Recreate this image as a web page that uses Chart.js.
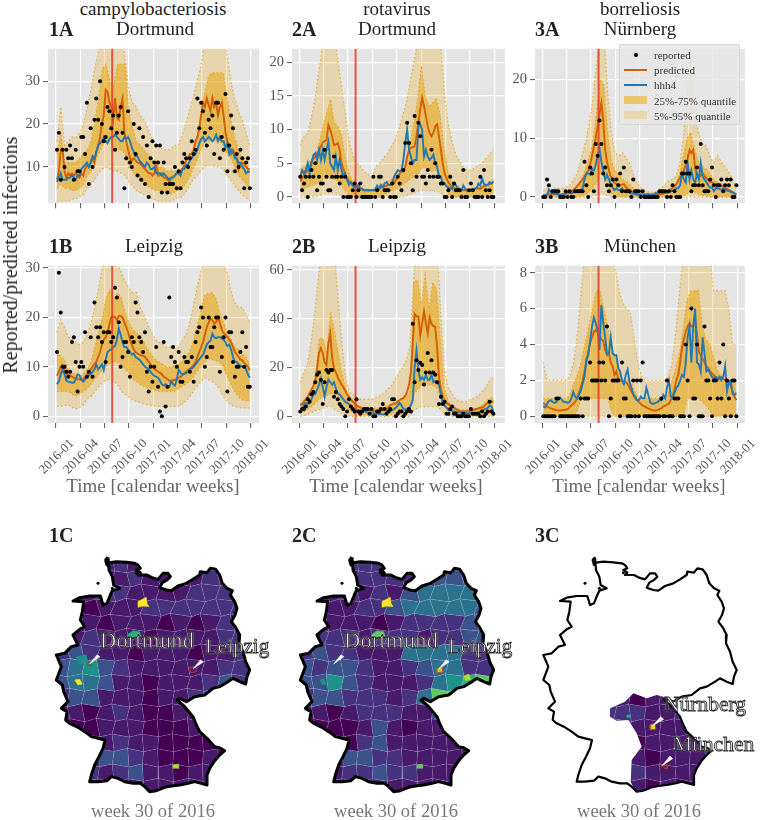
<!DOCTYPE html>
<html>
<head>
<meta charset="utf-8">
<script src="https://cdn.jsdelivr.net/npm/chart.js@4"></script>
<style>
body { margin:0; background:#fff; }
#page { position:relative; width:760px; height:820px; overflow:hidden; font-family:"Liberation Serif",serif; }
canvas { position:absolute; }
.txt { position:absolute; white-space:nowrap; line-height:1; }
.halo { color:#fff; -webkit-text-stroke:0.9px #2a2a2a; text-shadow:0 0 2px #fff; }
#legend { position:absolute; left:619px; top:44px; width:121px; height:81px; background:rgba(229,229,229,.82); border:1px solid #d8d8d8; border-radius:2px; box-sizing:border-box; font-size:11px; color:#333; }
#legend div { position:absolute; }
</style>
</head>
<body>
<div id="page"></div>
<script>
const tickWeeks = [0,13,26,39,52,65,78,91,104];
const tickLabels = ['2016-01','2016-04','2016-07','2016-10','2017-01','2017-04','2017-07','2017-10','2018-01'];
const markerWeek = 30;

// panel 1A
const a1Reported = [14,18,7,14,10,14,12,15,12,7,14,9,9,17,17,13,25,6,19,10,21,26,21,30,20,16,17,24,23,19,22,14,18,22,24,18,5,12,23,11,10,20,13,8,19,7,17,6,15,3,12,16,11,15,11,15,4,11,6,4,6,6,6,10,5,9,5,11,13,12,10,12,16,13,14,26,19,25,23,18,15,21,19,22,13,25,25,12,17,14,27,9,15,22,19,9,13,10,14,12,5,11,12,5];
const a1Predicted = [7,9,14,14,9,7.5,8.5,8,8.5,8,8.5,8,7.5,8.5,8,9.5,10.5,10,11,12,11,13.5,15,17,20,22,28,27.5,25,24,21,26,21.5,21,24,26,18,16,14,12,11.5,12,11.5,11,11,10.5,10,9.5,9,8.5,8.5,8,8.5,10.5,8,8,8.5,7.5,7.5,7,6.5,7.5,7.5,8,8.5,8.5,9,9.5,10.5,11.5,12,13,13,14,16,17,19,22,25,24,26,24.5,23,26,24,25,22,24,25,22,18,16,14.5,13,14,13,12,9.5,11,11,10.5,10,9.5,9.5];
const a1Hhh4 = [6.5,7.5,8.5,7,7,7,7.5,7.5,8,7.5,7,8,8,9.5,10,10.5,11,10,11,12.5,12,13.5,15,15.5,16,17,16,15.5,16.5,17,17,17.5,17,16.5,16,16,17,16.5,17,16,14.5,13.5,12.5,12.5,11.5,11,10.5,10,11,10.5,9.5,9.5,10,8.5,8.5,8.5,8,8.5,8,7.5,7,7.5,7.5,8,8.5,8.5,8,9.5,9.5,10.5,10.5,11.5,12,13,13,14,15.5,16.5,17,16,16.5,17,16.5,16,16.5,17.5,16,17,16,16,14.5,15.5,13,14,13.5,12,12,11,11,10,9.5,8.5,9,8.7];
const a1Q95 = [16,24,15,16,17,17,18,20,24,28,33,37,42,44,44,44,44,43,35,28,25,24,22,21,19,17,15,15,14,14,14,15,15,17,20,23,26,30,33,40,44,44,44,44,44,36,30,26,23,21,18,15];
const a1Q75 = [13,18,11,11,11,11,12,13,14,16,21,26,33,34,30,29,34,34,34,23,19,16,15,14,13,12,11,10,10,9,9,9,9,9,10,12,14,17,22,27,31,32,32,32,32,26,21,17,14,12,11,9];
const a1Q25 = [5,6,5,5,4.5,4.5,5,6,8,9,11,13,15,16,16,14.5,14,14,13,10,9,8,7,6.5,5.5,5,4.5,4.5,4,4,3.7,4,4.5,5,6,7.5,9.5,11.5,14,15.5,16,16,16,16,15,13,12,10,8,7,6,4.5];
const a1Q05 = [2,2,2,2,2.5,2.5,3,3.5,5,6,7,8.5,9.5,10,9.5,9,9,8.5,8,6.5,5.5,4.5,4,3.5,3,2.5,2.3,2,2,2,2,2.3,2.8,3,4,5.5,7,8,9,10,10.3,10.3,10,10,9.5,8,7,5.5,4.5,3.5,2.8,2.2];

// panel 2A
const a2Reported = [3,1,2,3,0,3,4,3,5,1,3,2,2,7,3,1,1,3,6,3,3,2,3,0,3,0,0,0,1,2,0,1,2,0,0,0,0,0,0,3,0,1,3,3,0,1,1,1,0,2,0,0,3,2,1,4,8,11,8,5,1,12,3,11,9,3,3,2,4,3,7,3,5,3,3,2,2,0,0,1,3,0,2,1,1,1,0,4,0,0,1,2,1,0,0,0,3,0,4,1,0,1,0,0];
const a2Predicted = [2.3,2.8,3.2,3.6,4,4.5,5.3,5.7,6,6.5,6.8,7.5,8.1,8.3,8.4,10.7,10,9,7.7,7.8,8,7,5,4.2,3.2,2.8,2.4,2.1,1.9,1.7,1.5,1.4,1.3,1.1,1,1,1,1,1,1,1,1.1,1.2,1.4,1.5,1.6,1.7,1.8,1.8,1.9,2,2.5,3,3.5,3.7,3.8,4.5,6,7,7.3,7.4,7.5,9,11,13,14.7,13.5,12,10.5,9.5,9,9.5,10.5,10.8,9,7,5,3.5,2.8,2.2,1.8,1.5,1.3,1.2,1.1,1.1,1,1,1,1,1,1.1,1.2,1.2,1.3,1.3,1.2,1.4,1.6,1.7,1.8,1.9,2,2.3];
const a2Hhh4 = [3,4,3.5,4,5,3.5,5,6.2,6.5,5.5,7,5.5,7,5.5,7,8.2,5,4.5,4,6,4,5.5,4,3,3.5,2.5,1.8,2.2,1.7,1.4,1.6,1.8,1.3,1.2,1,1,1,1,1,1,1.1,1.7,1.2,1.8,1.4,2,2.2,1.8,1.8,2,3,3.5,4,3.8,4,5.5,8,10,7,6,5,5.5,5.5,10.5,10.8,10,6,7,6,5.5,5.8,6.3,5,4.5,3,3,2,2,1.6,1.4,1.3,1.2,2,1.8,1.3,1,1,1.7,1.2,1,1,1.1,1.1,1.2,1.3,2,1.7,2.8,1.9,1.8,1.8,2.2,2,2.3];
const a2Q95 = [7.7,9,9.5,12,15,19,23,26,26,24,20,16,12,8,6,5,4.5,3.7,3.3,3,4.5,5,5.8,6.5,7.5,8.5,10,12,14,17,20,23,28,28,26,25,26,23,16,11,8.5,6.5,5.3,4.5,4,4,4.3,4.7,5,5.8,6.3,7];
const a2Q75 = [4,4.5,5,5.5,6.5,8,10.5,12.5,14.5,11,10.5,9,5.5,3.3,2.2,1.8,1.5,1.2,1.1,1.1,1.5,1.8,2,2.3,2.6,3,3.3,4,5,8,11,14.5,19.5,15,13.5,14,14.7,12,7,3.8,2.4,1.9,1.5,1.3,1.2,1.2,1.4,1.5,1.6,1.9,2.2,2.6];
const a2Q25 = [1.2,1.3,1.5,1.7,1.9,2.2,2.6,2.8,2.8,2.6,2.3,1.7,.8,.2,0,0,0,0,0,0,0,0,.3,.6,.9,1.1,1.3,1.7,2.2,2.6,3,3.3,4.2,4.4,4,3.8,4,3,2,.6,0,0,0,0,0,0,0,0,0,.2,.4,.6];
const a2Q05 = [0,0,0,0,0,.2,.4,.6,.6,.5,.4,.2,0,0,0,0,0,0,0,0,0,0,0,0,0,0,0,0,.2,.4,.6,.8,1,1,1,.9,.9,.6,.2,0,0,0,0,0,0,0,0,0,0,0,0,0];

// panel 3A
const a3Reported = [0,0,3,2,0,1,1,1,1,0,0,0,1,0,1,0,0,1,1,1,1,1,6,2,0,5,4,1,9,7,13,9,4,5,2,1,2,3,0,3,2,4,1,5,1,1,1,0,3,1,1,1,0,1,0,0,0,0,0,0,0,0,1,1,1,1,0,1,0,2,1,0,0,0,4,4,6,4,4,1,2,2,5,2,9,2,1,1,1,3,5,2,0,2,2,3,1,2,3,2,3,0,0,2];
const a3Predicted = [.3,.3,.4,.5,.5,.5,.5,.5,.4,.4,.4,.5,.6,.7,.8,1,1.2,1.5,1.8,2.2,2.6,3,3.5,4,4.5,5.5,7,8.5,10,12,14,16,13,8,6,4.5,3.5,3,2.4,2.2,2.1,2,2.1,2.2,1.7,1.4,1.1,1,.8,.7,.6,.5,.5,.4,.4,.4,.4,.4,.4,.4,.4,.5,.5,.5,.6,.7,.8,1,1.2,1.6,1.9,2.2,2.8,3.3,3.8,4.5,5.5,6.5,8,7.5,8,5,3.5,3.3,3.8,4,3.6,3.2,2.8,2.6,2.5,2.3,2.2,2.1,2,1.9,1.7,1.5,1.4,1.2,1,.8,.6,.5];
const a3Hhh4 = [.2,.3,.3,1.3,.8,.6,.5,.6,.5,.4,.4,.5,.6,.7,.8,.6,.8,1,1,1.2,1.2,1.5,3,4,4,3.8,4.8,4.5,5.5,7,8.3,6,4.5,3,3.8,3,2.2,1.6,1.2,1.5,1.2,1.2,1.5,1,1,.9,.8,.6,.6,.5,.4,.4,.3,.3,.5,.5,.5,.4,.4,.5,.7,.6,.9,.8,.7,1,.7,.9,1,1,1.2,1.5,1.5,2,4,3,2.5,5.8,3,4.5,3,2.5,4,3,5.8,3.5,3,2.5,2,1.6,1.6,1,1.5,1.5,1.4,1.2,1.4,1.2,1.1,1,.9,.8,.6,.4];
const a3Q95 = [1,1.5,1.3,1.5,1.5,1.5,1.7,2,3,4,6.5,9,12,16,22,28,28,18,11,7.5,7,7.5,6.5,5.5,3.5,2.2,1.4,1.1,.8,.8,1,1.5,2,2.7,3,3.5,5.5,10,17,25,14,11,9,8.8,7,5.8,7,6,5,4.3,3,1.8];
const a3Q75 = [.5,.5,.5,.6,.6,.6,.7,.8,1.5,2,3,4.5,6.5,9,14,20,19,11,6,4.5,3.8,3,2.7,2,1.4,1,.6,.5,.5,.5,.6,.8,1,1.3,1.6,2,4,7,10,11,8,6,5.2,4.8,4,3,2.6,2.2,1.8,1.5,1,.6];
const a3Q25 = [0,0,0,0,0,0,0,0,0,0,.1,.3,.8,1.5,2.4,4,4.5,2,.5,.2,0,0,0,0,0,0,0,0,0,0,0,0,0,0,0,0,0,.2,.5,1,.8,.5,.3,.2,0,0,0,0,0,0,0,0];
const a3Q05 = [0,0,0,0,0,0,0,0,0,0,0,0,0,.1,.3,.6,.6,.2,0,0,0,0,0,0,0,0,0,0,0,0,0,0,0,0,0,0,0,0,0,.1,0,0,0,0,0,0,0,0,0,0,0,0];

// panel 1B
const b1Reported = [13,29,21,10,10,9,8,9,15,16,11,5,10,11,10,17,8,9,16,8,23,18,16,18,15,17,11,17,17,15,16,26,24,19,10,12,15,15,13,8,16,15,23,21,16,15,13,17,9,5,10,7,10,14,6,1,0,15,2,6,24,12,14,11,10,13,7,7,12,11,11,9,12,7,15,17,18,22,20,10,12,20,14,14,18,20,20,9,12,16,20,5,17,17,11,8,10,10,13,17,10,14,6,6];
const b1Predicted = [8.2,9,10,10.4,9.5,8.6,8.4,8.3,8,7.8,7.8,7.5,7.5,7.3,7.5,8,8.5,9,9.5,10,10.5,11,12,13,14.5,15.5,16,17,18.5,20,20.2,20,19.5,20.3,20.3,20,19,18,17,15.5,14.5,13.5,13,12.7,12.5,12.3,12.3,12,11.5,11,10.5,10,9.5,9.3,9,8.8,8.5,8,7.8,7.5,7.2,7.2,7.3,7.4,7.5,7.7,8,8.3,8.6,9,9.3,9.6,10,10.4,11,12,13,14,15,16.5,18,19,19.7,19.4,18.7,19,20,19,17.5,16.8,16.5,16,15.5,15,14,13,12.5,12,11.5,11.3,10.8,10.4,10,9.3];
const b1Hhh4 = [6.5,7,8.5,9.5,8.5,7.2,7,6.9,6.8,6.8,7.5,8.5,8.3,7.5,7,7.5,8,8.3,8.5,9,9.5,10.5,9.5,10,10.5,9.3,11.5,13,13.3,13.5,14,14.2,15.5,17.8,16.5,15,14,14,13.5,13,12.5,12.7,12,11.7,11.5,11,10.5,10,9.8,9.5,9,8.5,8.2,8,7.8,7.2,6.5,6.2,6.5,6.2,6,7,6.5,6.2,7.5,9.4,8.8,8.5,8.6,8.8,9,9.5,9.7,10,10.5,11,11.5,12,12.5,13.5,14.5,15,15.3,16.7,16,15.8,16,16,15.8,15.5,15,14.2,14.5,13.5,12,11,11,10.5,10.2,10,10,9.5,8.5,7.8];
const b1Q95 = [17,19.5,18,16,15.5,15,14.5,15,16.5,19,22,26,30,33,34,34,31,29,27.5,26,25,25,22,20.5,18.5,17,15.5,15,14.5,14,14,13.7,14,15,16.5,18.5,22,26,29,32,34,35,34,33,31,29,25.5,23,22,22,20.5,19];
const b1Q75 = [13,12,11.5,9.5,9,8.5,8,8.5,9.5,11,14,17,20,24,25.8,23.5,25,24,21,19,17.5,17,16,15,13.5,12.5,11.5,11,10.5,10,10,10.2,10.5,11,12,13,15,18,21,24.5,24.8,25,24,21,19,17,15.5,14,13.5,12.5,12,10.5];
const b1Q25 = [5,5,5,5,4.5,4,4.5,5,5.5,6.5,7.5,8.5,9.5,10.2,10.7,11,11,10.5,9.5,8.7,7.5,7,6.5,6,5.8,5.5,5.2,5,5,5,5,5,5.5,6,6.5,7,8,9,10,11,11.6,11.5,11.2,11,10,8,6.5,5,4,3.3,3.2,3];
const b1Q05 = [2,2,2.2,2.3,1.8,1.5,1.8,2.3,3.5,4,5,6,6.8,7.3,7.4,7,6.5,5,4.5,3.8,3.3,3,2.8,2.5,2.3,2.2,2,2,2,2,2,2,2,2.3,3,3.8,5,6,7,7.8,7.5,7,6.5,5.5,4,3,2.3,2,1.8,1.7,1.7,1.7];

// panel 2B
const b2Reported = [2,3,3,4,7,6,9,10,14,17,18,15,5,14,19,18,19,19,8,10,7,5,4,3,0,2,7,4,3,2,7,2,1,2,3,3,3,1,3,0,0,2,2,3,5,3,1,2,3,7,7,0,1,2,2,0,1,2,3,2,38,14,23,19,22,21,13,18,26,18,23,18,17,14,5,8,5,6,1,1,3,4,1,1,0,0,0,1,0,0,0,3,1,1,1,1,0,2,0,1,2,6,2,1];
const b2Predicted = [4.5,5.2,6,7,8,9.5,11,12.5,14.5,20,26,28,26,22,21,30,34,24,19.7,18,16,14.5,13,12,10.5,9,8,7,6,5.5,4.5,4,3.7,3.2,2.8,2.7,2.6,2.5,2.4,2.3,2.2,2.1,2.1,2.2,2.4,2.7,3,3.5,4.7,4.9,5.1,5.3,6,6.7,7,7.5,8.5,10,13,18,30,42,41,41,33,38,43,38,34,40.6,38,37,36.7,28,15.8,11,8,6.7,5.5,5,4.5,4,3.5,3,2.5,2.2,2,2,2,2,2,2.2,2.5,2.8,3,3.2,3.4,3.6,4,5,5.5,6,6,6];
const b2Hhh4 = [2,2.5,5,5.5,5,6,7,9,9,11,13,15.5,12,8,12,15,14,13,14,11.5,9.5,9,8,7,6,5.5,5,4,3.5,3,2.7,2.3,2.5,2,2.5,1.8,1.4,1.5,1.6,1.3,1.2,1,1,.9,.8,.9,1.2,1.5,2,2.5,3,3.5,4.5,5.5,4.5,3,2.7,3,3.5,4.5,6.5,20,27,19,15,16,15,17,15,15,17,14,14.5,14,13,9,5.4,4.5,3.5,2.7,2.5,2.2,2,1.8,1.6,1.5,1.4,1.4,1.4,1.3,1.3,1.4,1.4,1.5,1.5,1.6,2,2.3,2.7,3,3.5,4.5,4,2];
const b2Q95 = [14,18,22,32,45,60,72,75,75,68,48,30,16,10,9,7.5,7,7,7,7,7.5,8.5,9.5,11,12.5,15,17.8,20,23,29,58,72,75,75,75,75,75,45,20,12,9.5,7,6.5,6,6,7,7.5,8.5,10,12,14.5,16.5];
const b2Q75 = [5,6.5,8,10,16,32,32,26,43,35,26,18,11,8,6,4.5,3.8,3.4,3.2,3.2,3.2,3.4,3.8,4.2,5,6,6.7,7.5,8.5,10,55,56,46,58,44,55,52,32,12,6.5,4.5,3.5,3,2.7,2.7,3,3.2,3.5,4.5,6,7.5,8];
const b2Q25 = [1.4,2,3,4,5.5,7,8,8.5,9.3,9,8,6,4,2.5,1.5,1,.7,.5,.5,.5,.5,.5,.5,.7,1,1.2,1.4,1.6,2,2.5,9,11,12.5,13,13,12.5,12,8,4,1.8,1,.7,.5,.5,.5,.5,.5,.7,.8,1,1.2,1.4];
const b2Q05 = [0,.3,.8,1.5,2.3,2.7,3.3,4,4,3,2,1.2,.5,0,0,0,0,0,0,0,0,0,0,0,0,0,0,0,0,0,2.5,3.4,4,4,4,4,4,3,1,.4,0,0,0,0,0,0,0,0,0,0,0,0];

// panel 3B
const b3Reported = [0,0,0,0,0,0,0,1,1,0,0,0,0,0,0,0,0,0,0,0,1,0,1,1,1,3,2,2,2,2,3,2,3,2,5,0,1,2,2,2,2,0,3,1,1,0,0,0,2,0,2,0,2,3,0,0,0,0,0,0,0,0,0,1,0,0,2,0,0,0,1,1,1,0,0,0,4,2,0,6,1,1,4,0,0,0,5,2,2,1,0,2,2,1,3,1,4,0,2,1,0,2,2,0];
const b3Predicted = [.75,.65,.55,.5,.45,.42,.38,.35,.33,.33,.34,.35,.37,.4,.5,.6,.7,.8,1,1.3,1.6,2,2.5,3,3.6,4.1,4.4,4.7,4.8,4.7,4.5,4.3,4.2,3.7,3.4,3.5,3,2.8,2.3,2.5,2.1,2,2,1.9,1.9,1.8,1.6,1.4,1.2,1,.9,.8,.7,.6,.55,.5,.45,.4,.35,.33,.33,.35,.4,.45,.55,.6,.65,.7,.9,1.1,1.5,2,2.3,3,3.8,4.3,4.7,5,5.2,5,5,5.5,4.6,3.6,3.4,3.2,3,2.8,2.7,2.5,2.4,2.3,2.1,2,2.1,2.2,2.1,2,2,1.9,1.7,1.4,1.1,.9];
const b3Hhh4 = [.55,.5,.7,.85,.9,.8,.75,.8,1,1.05,.9,.8,.8,.75,.8,1,1.35,1.1,1,1.2,1.4,1.8,2.2,3.2,3.4,4.2,5,5.5,5.2,4.8,3.7,6.2,5.2,4.4,3.5,3.5,4.4,3.5,3.4,3.4,2.7,2.5,2,1.8,2.3,2.6,1.9,1.6,1.25,1.1,.9,.9,1.1,1,1,1.6,1.2,.8,.7,.7,.75,.8,.9,.9,1.2,1,1.6,2,1.1,1.1,1.3,1.6,1.7,2,2.3,2.2,3,4.4,5,3,5,6,3,2.9,2.5,4.4,3.5,2.5,2.6,2.4,2.2,2.1,2.2,2.1,2.2,2,2.2,2.8,1.4,1.9,2,1.25,1.2,1.3];
const b3Q95 = [3,2,2,2,2,2,2,2.2,3,4.5,7,9,10,10,10,10,10,10,9.5,8.4,7,6.3,6,5.8,4.3,3,2.2,2,2,2,2,2,2,2.2,3,4.7,7,9,10,10,10,10,10,10,9,7,7,7,7,6,4,4];
const b3Q75 = [1,1,1,1,1,1,1,1.2,1.8,2.3,3,4,5,6,7,7,6,5,4,3.3,2.5,2,2,2,1.5,1,1,1,1,1,1,1,1,1.3,2,2.7,3.6,5,6.5,7,7,7,5,4.3,4,3.3,2.6,2.2,2,2,2,2];
const b3Q25 = [0,0,0,0,0,0,0,0,0,.3,1,1,1,1,1,1,1,1,.3,0,0,0,0,0,0,0,0,0,0,0,0,0,0,0,0,0,0,0,1,1,1,1,.8,.6,.3,0,0,0,0,0,0,0];
const b3Q05 = [0,0,0,0,0,0,0,0,0,0,0,0,0,0,0,0,0,0,0,0,0,0,0,0,0,0,0,0,0,0,0,0,0,0,0,0,0,0,0,0,0,0,0,0,0,0,0,0,0,0,0,0];

// map geometry, in map units (3 units = 1 px)
const germanyOutline = [[255,112],[248,120],[252,135],[258,128],[280,125],[310,127],[335,130],[345,135],[352,145],[340,150],[352,158],[345,165],[372,165],[385,172],[405,178],[412,170],[420,160],[435,160],[442,170],[432,180],[418,188],[410,203],[430,210],[445,212],[465,198],[490,190],[510,178],[530,165],[532,155],[552,158],[562,145],[578,148],[590,165],[598,190],[612,205],[628,212],[622,225],[635,245],[642,265],[636,285],[625,305],[638,322],[650,345],[648,370],[660,395],[668,425],[680,450],[672,470],[668,492],[650,485],[630,475],[615,485],[590,500],[570,505],[545,525],[515,530],[490,545],[470,535],[462,540],[485,560],[510,590],[518,610],[530,635],[552,655],[575,680],[590,683],[605,692],[590,705],[575,722],[560,745],[552,765],[552,795],[535,790],[515,785],[495,790],[470,795],[445,798],[425,802],[400,812],[380,815],[365,800],[352,790],[330,790],[305,785],[285,775],[265,770],[252,782],[225,785],[200,785],[205,765],[215,735],[228,710],[240,685],[246,660],[225,655],[205,650],[185,635],[165,622],[140,610],[128,600],[132,575],[115,565],[135,545],[122,515],[118,495],[100,480],[115,440],[100,405],[125,400],[145,380],[165,375],[150,345],[170,328],[185,320],[172,300],[178,275],[182,245],[150,243],[170,233],[200,228],[232,228],[240,255],[252,250],[262,225],[268,212],[290,205],[272,195],[268,170],[258,150],[255,112]];
const bavariaOutline = [[300,565],[345,545],[370,520],[410,535],[440,525],[460,530],[500,570],[515,600],[530,635],[575,680],[605,692],[575,722],[555,760],[552,795],[515,785],[480,795],[430,802],[395,815],[375,812],[362,785],[365,720],[395,680],[380,640],[355,600],[320,602],[300,590],[300,565]];
const islands = [[225,190],[340,158],[268,205]];

// district mesh: 17 rows of 14 corners, [x,y, x,y, ...]
const districtMesh = [
[90,100,138,108,176,103,229,110,266,102,318,107,357,104,409,110,446,101,498,108,537,103,589,109,626,102,678,106],
[86,155,140,147,184,156,221,146,275,153,311,158,364,146,402,155,455,148,491,156,544,147,581,153,634,158,672,148],
[93,194,131,202,178,190,231,199,264,192,322,201,354,192,411,201,444,190,503,199,534,191,592,198,624,190,681,200],
[84,243,143,236,187,246,218,237,278,245,309,235,367,244,399,236,458,246,488,237,547,245,578,236,637,244,669,238],
[95,282,129,291,174,280,234,290,261,283,325,291,351,281,414,289,441,280,506,290,531,281,595,289,621,282,684,290],
[85,333,141,325,186,335,219,326,277,334,310,325,366,334,400,327,457,335,489,326,546,334,579,327,636,333,670,326],
[94,372,130,381,173,371,233,380,263,372,323,380,353,370,412,379,443,371,504,381,533,372,594,379,622,372,682,380],
[87,424,142,415,185,425,220,416,276,423,312,416,365,425,401,417,456,425,490,416,545,424,580,416,635,425,671,415],
[92,462,132,470,177,461,230,471,265,463,321,470,355,461,410,470,445,462,502,471,535,461,591,469,625,462,680,471],
[86,513,140,505,184,514,222,506,274,514,313,505,363,515,403,506,454,514,492,505,543,514,582,505,633,514,672,506],
[94,553,133,561,175,551,232,560,266,552,320,561,356,552,408,560,447,551,500,560,536,552,590,561,627,553,679,560],
[85,604,141,596,186,605,219,595,277,604,311,596,364,605,402,596,453,605,493,596,542,604,583,595,632,605,673,596],
[93,642,134,651,174,641,231,650,267,642,319,651,357,642,407,650,448,641,499,651,537,642,589,650,628,641,678,651],
[86,694,139,685,183,695,223,686,273,694,314,685,362,695,404,686,452,695,494,685,541,694,584,686,631,695,674,685],
[92,733,135,741,176,731,229,740,268,732,318,741,358,731,406,741,449,732,498,740,538,731,588,740,629,732,677,741],
[88,784,138,775,182,785,224,776,272,785,315,776,361,784,405,775,451,785,495,775,540,784,585,776,630,785,675,775],
[90,830,136,822,178,830,228,823,270,830,317,822,359,830,407,823,450,830,497,822,539,830,587,823,628,830,676,822]
];

// colour level of each district cell (0-10 on the colour bar)
const map1Levels = [
[1,1,1,1,2,1,1,1,1,1,2,2,2],
[1,1,1,1,1,2,1,1,1,1,2,2,2],
[1,1,1,2,2,1,1,1,1,2,2,2,2],
[1,1,0,1,1,1,2,2,2,2,2,2,2],
[1,1,1,0,1,1,1,0,1,0,1,2,1],
[1,1,2,1,1,1,0,1,1,1,1,2,2],
[2,3,2,1,1,0,1,1,1,0,1,1,2],
[3,4,5,3,2,1,1,1,1,1,1,2,2],
[3,4,4,3,1,1,0,1,1,1,2,3,2],
[2,3,3,1,1,1,0,1,1,2,3,2,2],
[1,1,0,1,2,1,0,0,1,1,1,1,1],
[0,0,0,1,1,1,0,0,0,1,1,1,1],
[0,0,0,1,2,1,1,0,0,0,0,1,1],
[1,1,1,3,3,2,1,0,0,0,1,0,1],
[1,1,2,1,2,3,1,1,0,1,1,1,1],
[1,1,2,1,1,1,1,1,1,1,1,1,1]];
const map2Levels = [
[1,1,1,2,2,2,1,1,1,1,3,4,4],
[1,1,1,1,2,2,2,2,2,3,3,4,4],
[1,1,1,2,1,2,1,3,4,4,4,4,3],
[2,1,1,1,2,2,3,4,4,4,4,4,3],
[2,2,1,1,1,0,1,2,2,2,2,3,3],
[2,2,2,2,1,2,2,2,1,2,2,3,3],
[2,3,2,2,1,1,1,4,4,4,4,2,2],
[3,2,3,3,2,1,1,2,3,4,4,2,2],
[3,3,5,3,2,1,1,1,2,4,5,6,7],
[2,3,3,2,2,2,1,2,4,7,7,6,4],
[1,1,0,1,2,2,2,1,1,3,1,1,1],
[0,0,0,0,1,3,1,0,1,1,1,1,1],
[0,0,0,0,2,3,1,1,1,1,1,0,1],
[1,1,1,3,3,2,2,1,1,1,1,1,1],
[1,1,1,2,2,3,2,2,1,1,1,1,1],
[1,1,1,1,1,1,1,1,1,1,1,1,1]];
const map3Levels = [
[1,1,1,1,1,1,1,1,1,1,1,1,1],
[1,1,1,1,1,1,1,1,1,1,1,1,1],
[1,1,1,1,1,1,1,1,1,1,1,1,1],
[1,1,1,1,1,1,1,1,1,1,1,1,1],
[1,1,1,1,1,1,1,1,1,1,1,1,1],
[1,1,1,1,1,1,1,1,1,1,1,1,1],
[1,1,1,1,1,1,1,1,1,1,1,1,1],
[1,1,1,1,1,1,1,1,1,1,1,1,1],
[1,1,1,1,1,1,1,1,1,1,1,1,1],
[1,1,1,1,1,1,0,1,1,1,1,1,1],
[1,1,1,1,2,2,2,1,1,2,2,1,1],
[1,1,1,1,2,2,1,1,1,1,2,2,1],
[1,1,1,1,1,1,0,1,1,1,1,2,2],
[1,1,1,1,1,1,1,0,1,1,1,2,3],
[1,1,1,1,1,1,2,1,1,1,1,1,1],
[1,1,1,1,1,0,1,0,1,0,1,1,1]];

// hot districts: colour level, then corners
const map1Hot = [
[10,[[345,245],[358,238],[370,232],[372,250],[378,260],[360,258],[345,262]]],
[6,[[313,345],[330,332],[350,335],[355,352],[335,357],[315,352]]],
[10,[[155,480],[170,478],[178,492],[165,495]]],
[5,[[160,410],[190,405],[195,425],[170,432]]],
[8,[[450,735],[465,732],[467,745],[452,745]]]];
const map2Hot = [
[10,[[345,245],[358,238],[370,232],[372,250],[378,260],[360,258],[345,262]]],
[7,[[313,345],[330,332],[350,335],[355,352],[335,357],[315,352]]],
[5,[[160,478],[172,476],[178,492],[165,495]]],
[7,[[450,735],[465,732],[467,745],[452,745]]],
[8,[[590,468],[605,462],[612,478],[595,482]]],
[8,[[510,445],[525,442],[528,456],[512,458]]]];
const map3Hot = [
[9,[[420,614],[433,612],[436,626],[422,629]]],
[6,[[350,585],[358,584],[359,592],[351,593]]]];
const map1Rings = [[[195,425],[205,425],[205,436],[195,436],[195,425]],[[500,442],[518,440],[520,455],[503,458],[500,442]]];
const map2Rings = [[[510,445],[525,442],[528,456],[512,458],[510,445]]];
const map3Rings = [[[422,612],[436,612],[438,628],[422,630],[422,612]],[[462,735],[472,735],[472,745],[462,745],[462,735]]];
const map1Arrows = [[[200,432],[222,404],[231,410]],[[510,446],[533,419],[541,426]]];
const map2Arrows = [[[200,432],[222,404],[231,410]],[[515,447],[538,419],[546,426]]];
const map3Arrows = [[[428,617],[452,590],[461,598]],[[455,738],[480,708],[488,716]]];

const viridis = ['#440154','#481a6c','#46327e','#3b528b','#2c728e','#21918c','#28ae80','#5ec962','#addc30','#d8e219','#fde725'];

const page = document.getElementById('page');
const weeks = a1Reported.map((v, i) => i + 0.5);
const bandWeeks = a1Q95.map((v, i) => 0.5 + i * 103 / 51);

function addText(text, x, baseline, size, opts) {
    opts = opts || {};
    const el = document.createElement('div');
    el.className = 'txt' + (opts.halo ? ' halo' : '');
    el.textContent = text;
    el.style.fontSize = size + 'px';
    el.style.top = (baseline - 0.8375 * size) + 'px';
    el.style.color = opts.color || (opts.halo ? '#fff' : '#222');
    if (opts.bold) el.style.fontWeight = 'bold';
    if (opts.spacing) el.style.letterSpacing = opts.spacing + 'px';
    el.style.left = x + 'px';
    if (!opts.left) el.style.transform = 'translateX(-50%)';
    page.appendChild(el);
    return el;
}

function addCanvas(left, top, width, height) {
    const c = document.createElement('canvas');
    c.width = width;
    c.height = height;
    c.style.left = left + 'px';
    c.style.top = top + 'px';
    c.style.width = width + 'px';
    c.style.height = height + 'px';
    page.appendChild(c);
    return c;
}

const plotBackground = {
    id: 'plotBackground',
    beforeDraw(chart) {
        const a = chart.chartArea;
        chart.ctx.fillStyle = '#e5e5e5';
        chart.ctx.fillRect(a.left, a.top, a.right - a.left, a.bottom - a.top);
    }
};

function pts(xs, ys) {
    return ys.map((y, i) => ({x: xs[i], y: y}));
}

function drawPanel(pl, pt, w, h, xRange, yRange, yTicks, s, withLabels) {
    const leftPad = 46, rightPad = 36, topPad = 4, bottomPad = withLabels ? 60 : 10;
    const canvas = addCanvas(pl - leftPad, pt - topPad, w + leftPad + rightPad, h + topPad + bottomPad);
    const band = (data, fill, colour) => ({
        data: pts(bandWeeks, data), pointRadius: 0, borderWidth: 1.3, borderDash: [1.5, 2.5],
        borderColor: 'rgba(230,159,0,.7)', backgroundColor: colour, fill: fill
    });
    new Chart(canvas, {
        type: 'line',
        data: {datasets: [
            {data: pts(weeks, s[0]), showLine: false, pointRadius: 2, pointBorderWidth: 0, pointBackgroundColor: '#000'},
            {data: [{x: markerWeek, y: yRange[0]}, {x: markerWeek, y: yRange[1]}], borderColor: 'rgba(226,60,45,.85)', borderWidth: 2, pointRadius: 0},
            {data: pts(weeks, s[2]), borderColor: '#1f78b8', borderWidth: 1.9, pointRadius: 0},
            {data: pts(weeks, s[1]), borderColor: '#d55e00', borderWidth: 1.9, pointRadius: 0},
            band(s[5], '+1', 'rgba(230,159,0,.5)'),
            band(s[4], false, 'transparent'),
            band(s[6], '+1', 'rgba(230,159,0,.24)'),
            band(s[3], false, 'transparent')
        ]},
        options: {
            responsive: false,
            animation: false,
            events: [],
            layout: {autoPadding: false, padding: {left: 0, right: rightPad, top: topPad, bottom: 0}},
            plugins: {legend: {display: false}, tooltip: {enabled: false}},
            scales: {
                x: {
                    type: 'linear', min: xRange[0], max: xRange[1],
                    border: {display: false},
                    grid: {color: '#fff', lineWidth: 1.2, tickColor: '#555', tickLength: 5, tickWidth: 1},
                    afterBuildTicks: a => { a.ticks = tickWeeks.map(v => ({value: v})); },
                    afterFit: a => { a.height = bottomPad; },
                    ticks: {
                        autoSkip: false, minRotation: 45, maxRotation: 45, labelOffset: 16, padding: 8,
                        color: '#555', font: {family: 'Liberation Serif', size: 13},
                        callback: (v, i) => withLabels ? tickLabels[i] : ''
                    }
                },
                y: {
                    min: yRange[0], max: yRange[1],
                    border: {display: false},
                    grid: {color: '#fff', lineWidth: 1.2, tickColor: '#555', tickLength: 5, tickWidth: 1},
                    afterBuildTicks: a => { a.ticks = yTicks.map(v => ({value: v})); },
                    afterFit: a => { a.width = leftPad; },
                    ticks: {color: '#555', padding: 3, font: {family: 'Liberation Serif', size: 14.5}, callback: v => v}
                }
            }
        },
        plugins: [plotBackground]
    });
}

drawPanel(48, 41, 211, 164, [-4.3, 108.4], [1.5, 37.6], [10,20,30], [a1Reported,a1Predicted,a1Hhh4,a1Q05,a1Q25,a1Q75,a1Q95], false);
drawPanel(292, 41, 213, 164, [-3.9, 109.7], [-0.93, 22], [0,5,10,15,20], [a2Reported,a2Predicted,a2Hhh4,a2Q05,a2Q25,a2Q75,a2Q95], false);
drawPanel(535, 41, 210, 164, [-3.9, 108.1], [-1.06, 25.2], [0,10,20], [a3Reported,a3Predicted,a3Hhh4,a3Q05,a3Q25,a3Q75,a3Q95], false);
drawPanel(48, 258, 211, 165, [-4.3, 108.4], [-1.35, 30.45], [0,10,20,30], [b1Reported,b1Predicted,b1Hhh4,b1Q05,b1Q25,b1Q75,b1Q95], true);
drawPanel(292, 258, 213, 165, [-3.9, 109.7], [-2.75, 61.8], [0,20,40,60], [b2Reported,b2Predicted,b2Hhh4,b2Q05,b2Q25,b2Q75,b2Q95], true);
drawPanel(535, 258, 210, 165, [-3.9, 108.1], [-0.37, 8.39], [0,2,4,6,8], [b3Reported,b3Predicted,b3Hhh4,b3Q05,b3Q25,b3Q75,b3Q95], true);

function polyData(corners) {
    return corners.map(p => ({x: p[0], y: p[1]}));
}
function closed(corners) {
    return polyData(corners.concat([corners[0]]));
}
function mapScales() {
    return {
        x: {type: 'linear', display: false, min: 0, max: 750},
        y: {type: 'linear', display: false, min: 0, max: 900, reverse: true}
    };
}

function drawMap(left, levels, clipShape, hot, rings, arrows, outlineWidth) {
    const cells = [];
    levels.forEach((row, r) => row.forEach((level, c) => {
        const m0 = districtMesh[r], m1 = districtMesh[r + 1];
        cells.push({
            data: closed([[m0[2*c],m0[2*c+1]],[m0[2*c+2],m0[2*c+3]],[m1[2*c+2],m1[2*c+3]],[m1[2*c],m1[2*c+1]]]),
            fill: 'shape', backgroundColor: viridis[level], borderColor: 'rgba(255,255,255,.13)', borderWidth: 0.7, pointRadius: 0, clip: false
        });
    }));
    const clipToShape = {
        id: 'clipToShape',
        beforeDatasetsDraw(chart) {
            const ctx = chart.ctx;
            ctx.save();
            ctx.beginPath();
            clipShape.forEach((p, i) => {
                const x = chart.scales.x.getPixelForValue(p[0]), y = chart.scales.y.getPixelForValue(p[1]);
                if (i) ctx.lineTo(x, y); else ctx.moveTo(x, y);
            });
            ctx.closePath();
            ctx.clip();
        },
        afterDatasetsDraw(chart) { chart.ctx.restore(); }
    };
    const base = {responsive: false, animation: false, events: [], layout: {autoPadding: false, padding: 0},
        plugins: {legend: {display: false}, tooltip: {enabled: false}}};
    new Chart(addCanvas(left, 520, 250, 300), {
        type: 'line',
        data: {datasets: cells},
        options: Object.assign({}, base, {scales: mapScales()}),
        plugins: [clipToShape]
    });
    const over = [];
    arrows.forEach(a => over.push({data: closed(a), fill: 'shape', backgroundColor: '#fff', borderColor: '#fff', borderWidth: 0.5, pointRadius: 0}));
    over.push({data: polyData(germanyOutline), borderColor: '#000', borderWidth: outlineWidth, borderJoinStyle: 'round', pointRadius: 0, clip: false});
    over.push({data: polyData(islands), showLine: false, pointRadius: 1.5, pointBorderWidth: 0, pointBackgroundColor: '#000'});
    rings.forEach(a => over.push({data: polyData(a), borderColor: 'rgba(200,50,40,.9)', borderWidth: 1, pointRadius: 0}));
    hot.forEach(h => over.push({data: closed(h[1]), fill: 'shape', backgroundColor: viridis[h[0]], borderColor: viridis[h[0]], borderWidth: 0.5, pointRadius: 0}));
    new Chart(addCanvas(left, 520, 250, 300), {
        type: 'line',
        data: {datasets: over},
        options: Object.assign({}, base, {scales: mapScales()})
    });
}

drawMap(23, map1Levels, germanyOutline, map1Hot, map1Rings, map1Arrows, 3);
drawMap(267, map2Levels, germanyOutline, map2Hot, map2Rings, map2Arrows, 3);
drawMap(510, map3Levels, bavariaOutline, map3Hot, map3Rings, map3Arrows, 2.2);

// titles and panel letters
addText('campylobacteriosis', 153, 15, 19);
addText('Dortmund', 155, 35, 19);
addText('rotavirus', 397, 15, 19);
addText('Dortmund', 397, 35, 19);
addText('borreliosis', 640, 15, 19);
addText('Nürnberg', 640, 35, 19);
addText('Leipzig', 154, 252, 19);
addText('Leipzig', 397, 252, 19);
addText('München', 640, 252, 19);
[['1A',49,36],['2A',292,36],['3A',535,36],['1B',49,253],['2B',292,253],['3B',535,253],['1C',49,542],['2C',292,542],['3C',535,542]].forEach(l => {
    addText(l[0], l[1], l[2], 20, {bold: true, left: true});
});
[153, 396, 639].forEach(x => addText('Time [calendar weeks]', x, 492, 19, {color: '#666'}));
[153, 396, 639].forEach(x => addText('week 30 of 2016', x, 817, 18.5, {color: '#777'}));
const ylab = addText('Reported/predicted infections', 10, 0, 20);
ylab.style.top = '245px';
ylab.style.transform = 'translateX(-50%) rotate(-90deg)';

// map labels
addText('Dortmund', 100, 649, 22.5, {halo: true, left: true, spacing: 0.2});
addText('Leipzig', 205, 654, 21, {halo: true, left: true});
addText('Dortmund', 344, 649, 22.5, {halo: true, left: true, spacing: 0.2});
addText('Leipzig', 448, 654, 21, {halo: true, left: true});
addText('Nürnberg', 664, 712, 21.5, {halo: true, left: true});
addText('München', 673, 752, 21.5, {halo: true, left: true});

// legend of panel 3A
const legend = document.createElement('div');
legend.id = 'legend';
const legendEntries = ['reported','predicted','hhh4','25%-75% quantile','5%-95% quantile'];
const legendMarks = [
    'left:14px;top:8px;width:4px;height:4px;border-radius:50%;background:#000',
    'left:4px;top:24px;width:23px;height:2px;background:#d55e00',
    'left:4px;top:39px;width:23px;height:2px;background:#1f78b8',
    'left:4px;top:51px;width:23px;height:8px;background:#ebc46c',
    'left:4px;top:66px;width:23px;height:8px;background:#e8d7ad'
];
legendEntries.forEach((t, i) => {
    const mark = document.createElement('div');
    mark.style.cssText = legendMarks[i];
    legend.appendChild(mark);
    const label = document.createElement('div');
    label.textContent = t;
    label.style.left = '34px';
    label.style.top = (4 + i * 15.2) + 'px';
    label.style.whiteSpace = 'nowrap';
    legend.appendChild(label);
});
page.appendChild(legend);
</script>
</body>
</html>
